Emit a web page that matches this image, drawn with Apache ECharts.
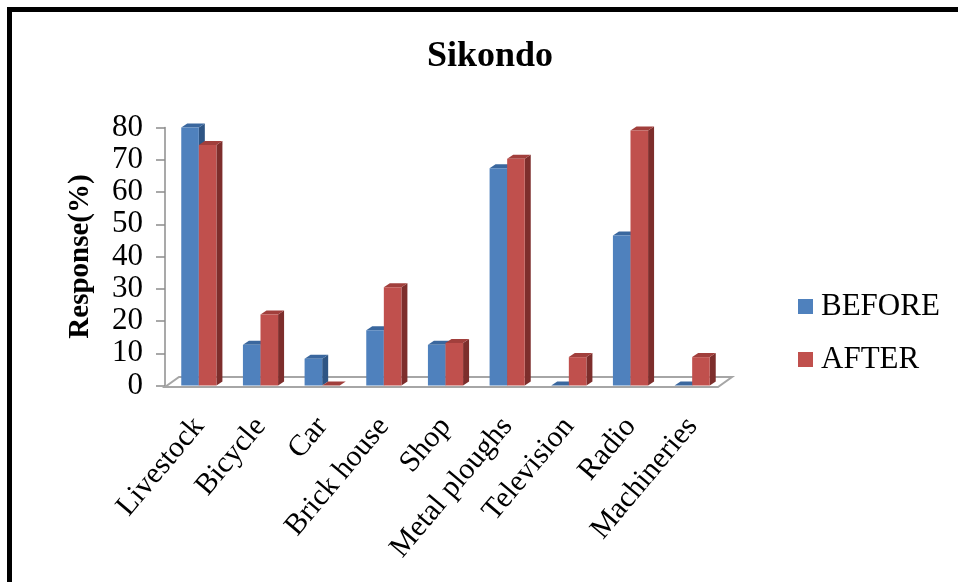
<!DOCTYPE html>
<html>
<head>
<meta charset="utf-8">
<script src="https://cdn.jsdelivr.net/npm/echarts@6/dist/echarts.min.js"></script>
<style>
  html, body { margin: 0; padding: 0; background: #fff; }
  #chart { width: 958px; height: 582px; }
</style>
</head>
<body>
<div id="chart"></div>
<script>
// Household assets, Sikondo: share of respondents (%) before and after
const categories = ['Livestock', 'Bicycle', 'Car', 'Brick house', 'Shop',
  'Metal ploughs', 'Television', 'Radio', 'Machineries'];
const before = [80, 12.6, 8.3, 17.1, 12.6, 67.4, 0, 46.5, 0];
const after = [74.6, 22.0, 0, 30.5, 13.2, 70.3, 8.8, 79.1, 8.8];
const yTicks = { min: 0, max: 80, interval: 10 };

const FONT = '"Liberation Serif", "Times New Roman", serif';

const palette = {
  BEFORE: { front: '#4F81BD', top: '#3A679E', side: '#2E5584' },
  AFTER: { front: '#C0504D', top: '#A13F3C', side: '#7D2E2C' }
};

// Depth offset of the extruded columns
const DX = 6, DY = -4;

function columnRenderer(side, colors) {
  return function (params, api) {
    const idx = api.value(0);
    const val = api.value(1);
    const base = api.coord([idx, 0]);
    const top = api.coord([idx, val]);
    const band = api.size([1, 0])[0];
    const w = band * 0.285;
    const x0 = side === 0 ? base[0] - w : base[0];
    const x1 = x0 + w;
    const yb = base[1], yt = top[1];
    return {
      type: 'group',
      children: [
        { type: 'polygon', shape: { points: [[x1, yb], [x1 + DX, yb + DY], [x1 + DX, yt + DY], [x1, yt]] },
          style: { fill: colors.side } },
        { type: 'polygon', shape: { points: [[x0, yt], [x0 + DX, yt + DY], [x1 + DX, yt + DY], [x1, yt]] },
          style: { fill: colors.top } },
        { type: 'rect', shape: { x: x0, y: yt, width: w, height: yb - yt },
          style: { fill: colors.front } }
      ]
    };
  };
}

// Floor plate under the columns
function floorRenderer(params, api) {
  const cs = params.coordSys;
  const y0 = api.coord([0, 0])[1];
  const xl = cs.x - 3, xr = cs.x + cs.width - 5;
  const yf = y0 + 1.5;
  const fdx = 14, fdy = -10;
  return {
    type: 'polygon',
    shape: { points: [[xl, yf], [xr, yf], [xr + fdx, yf + fdy], [xl + fdx, yf + fdy]] },
    style: { fill: '#ffffff', stroke: '#a6a6a6', lineWidth: 2 }
  };
}

const chart = echarts.init(document.getElementById('chart'), null, { renderer: 'canvas' });

chart.setOption({
  animation: false,
  backgroundColor: '#ffffff',
  title: {
    text: 'Sikondo',
    left: 422,
    top: 34,
    textStyle: { fontFamily: FONT, fontSize: 36, fontWeight: 'bold', color: '#000' }
  },
  legend: {
    orient: 'vertical',
    left: 798,
    top: 291,
    padding: 0,
    itemWidth: 15,
    itemHeight: 15,
    itemGap: 22,
    icon: 'rect',
    data: ['BEFORE', 'AFTER'],
    textStyle: { fontFamily: FONT, fontSize: 31, color: '#000', padding: [0, 0, 0, 3] }
  },
  grid: { left: 168, right: 235, top: 127.5, bottom: 196.5, containLabel: false },
  xAxis: {
    type: 'category',
    data: categories,
    boundaryGap: true,
    axisLine: { show: false },
    axisTick: { show: false },
    axisLabel: {
      interval: 0, rotate: 50, margin: 36,
      fontFamily: FONT, fontSize: 30, color: '#000'
    }
  },
  yAxis: {
    type: 'value',
    min: yTicks.min, max: yTicks.max, interval: yTicks.interval,
    offset: 3,
    name: 'Response(%)',
    nameLocation: 'middle',
    nameRotate: 90,
    nameGap: 70,
    nameTextStyle: { fontFamily: FONT, fontSize: 29, fontWeight: 'bold', color: '#000' },
    axisLine: { show: true, lineStyle: { color: '#8c8c8c', width: 1.5 } },
    axisTick: { show: true, length: 9, lineStyle: { color: '#8c8c8c', width: 1.5 } },
    splitLine: { show: false },
    axisLabel: { margin: 22, fontFamily: FONT, fontSize: 31, color: '#000' }
  },
  graphic: [{
    type: 'rect',
    shape: { x: 9.5, y: 9.5, width: 1000, height: 1000 },
    style: { fill: 'none', stroke: '#000', lineWidth: 5 },
    z: 100
  }],
  series: [
    {
      name: 'floor', type: 'custom', renderItem: floorRenderer,
      data: [[0, 0]], encode: { x: 0, y: 1 }, silent: true, z: 1
    },
    {
      name: 'BEFORE', type: 'custom',
      renderItem: columnRenderer(0, palette.BEFORE),
      itemStyle: { color: palette.BEFORE.front },
      data: before.map((v, i) => [i, v]), encode: { x: 0, y: 1 }, z: 2
    },
    {
      name: 'AFTER', type: 'custom',
      renderItem: columnRenderer(1, palette.AFTER),
      itemStyle: { color: palette.AFTER.front },
      data: after.map((v, i) => [i, v]), encode: { x: 0, y: 1 }, z: 3
    }
  ]
});
</script>
</body>
</html>
